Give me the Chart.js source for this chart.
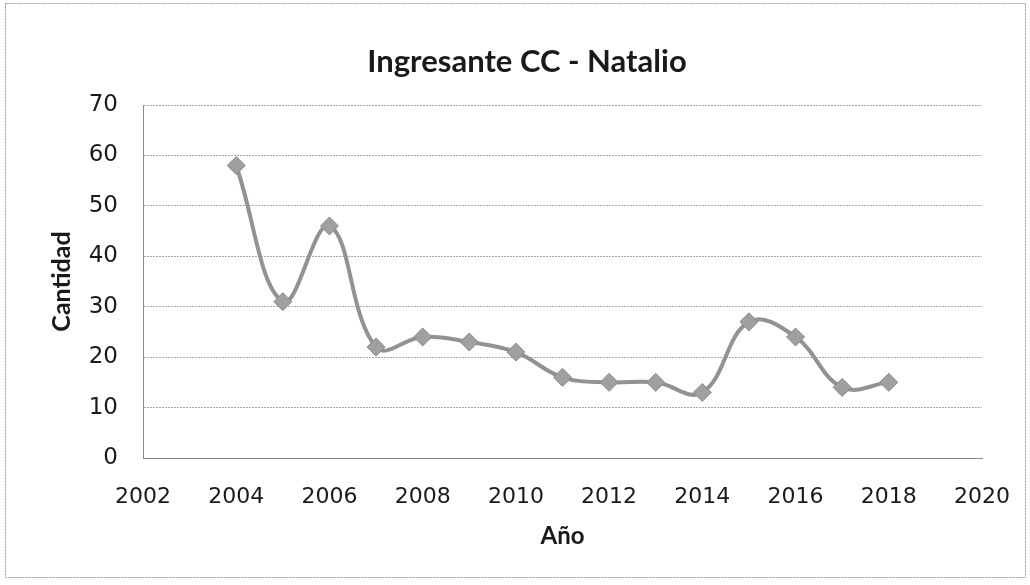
<!DOCTYPE html>
<html>
<head>
<meta charset="utf-8">
<script src="https://cdn.jsdelivr.net/npm/chart.js@4/dist/chart.umd.min.js"></script>
<style>
  html, body { margin: 0; padding: 0; background: #fff; }
  #wrap { width: 1030px; height: 585px; position: relative; }
</style>
</head>
<body>
<div id="wrap"><canvas id="chart"></canvas></div>
<script>
// datos
const years = [2004, 2005, 2006, 2007, 2008, 2009, 2010, 2011, 2012, 2013, 2014, 2015, 2016, 2017, 2018];
const cantidad = [58, 31, 46, 22, 24, 23, 21, 16, 15, 15, 13, 27, 24, 14, 15];
const xMin = 2002, xMax = 2020, xStep = 2;
const yMin = 0, yMax = 70, yStep = 10;
const chartTitle = 'Ingresante CC - Natalio';

// marco exterior + titulo (un poco a la derecha del centro, como en el original)
const frameAndTitle = {
    id: 'frameAndTitle',
    beforeDraw(chart) {
        const ctx = chart.ctx;
        ctx.save();
        ctx.fillStyle = '#fff';
        ctx.fillRect(0, 0, chart.width, chart.height);
        ctx.strokeStyle = '#9a9a9a';
        ctx.lineWidth = 1;
        ctx.setLineDash([2, 1]);
        ctx.strokeRect(5.5, 3.5, chart.width - 10, chart.height - 11);
        ctx.restore();
    },
    afterDraw(chart) {
        const ctx = chart.ctx;
        ctx.save();
        ctx.fillStyle = '#1a1a1a';
        ctx.font = 'bold 31px Lato';
        ctx.textAlign = 'center';
        ctx.textBaseline = 'middle';
        ctx.fillText(chartTitle, chart.width / 2 + 12, 62);
        ctx.restore();
    }
};

const ctx = document.getElementById('chart').getContext('2d');
new Chart(ctx, {
    type: 'scatter',
    data: {
        datasets: [{
            label: 'Cantidad',
            data: years.map((y, i) => ({ x: y, y: cantidad[i] })),
            showLine: true,
            tension: 0.4,
            borderColor: '#929292',
            borderWidth: 4,
            pointStyle: 'rectRot',
            pointRadius: 9,
            pointBackgroundColor: '#a0a0a0',
            pointBorderColor: '#8a8a8a',
            pointBorderWidth: 1
        }]
    },
    options: {
        responsive: true,
        maintainAspectRatio: false,
        animation: false,
        layout: { padding: { left: 0, right: 48, top: 105, bottom: 0 } },
        plugins: {
            legend: { display: false },
            tooltip: { enabled: false },
            title: { display: false }
        },
        scales: {
            x: {
                type: 'linear',
                min: xMin,
                max: xMax,
                afterFit: (s) => { s.height = 127; s.paddingRight = 0; s.paddingLeft = 0; },
                ticks: {
                    stepSize: xStep,
                    padding: 26,
                    color: '#1a1a1a',
                    font: { family: 'DejaVu Sans', size: 22 },
                    callback: (v) => String(v)
                },
                grid: { display: false, drawTicks: false },
                border: { display: true, color: '#8a8a8a', width: 1, dash: [2, 1] },
                title: {
                    display: true,
                    text: 'Año',
                    color: '#1a1a1a',
                    font: { family: 'Lato', size: 24, weight: 'bold' },
                    padding: { top: 0, bottom: 34 }
                }
            },
            y: {
                min: yMin,
                max: yMax,
                afterFit: (s) => { s.width = 143; },
                ticks: {
                    stepSize: yStep,
                    padding: 25,
                    color: '#1a1a1a',
                    font: { family: 'DejaVu Sans', size: 23 }
                },
                grid: { color: '#a8a8a8', lineWidth: 1, drawTicks: false },
                border: { display: true, color: '#8a8a8a', width: 1, dash: [2, 1] },
                title: {
                    display: true,
                    text: 'Cantidad',
                    color: '#1a1a1a',
                    font: { family: 'Lato', size: 25, weight: 'bold' },
                    padding: { top: 47, bottom: 0 }
                }
            }
        }
    },
    plugins: [frameAndTitle]
});
</script>
</body>
</html>
